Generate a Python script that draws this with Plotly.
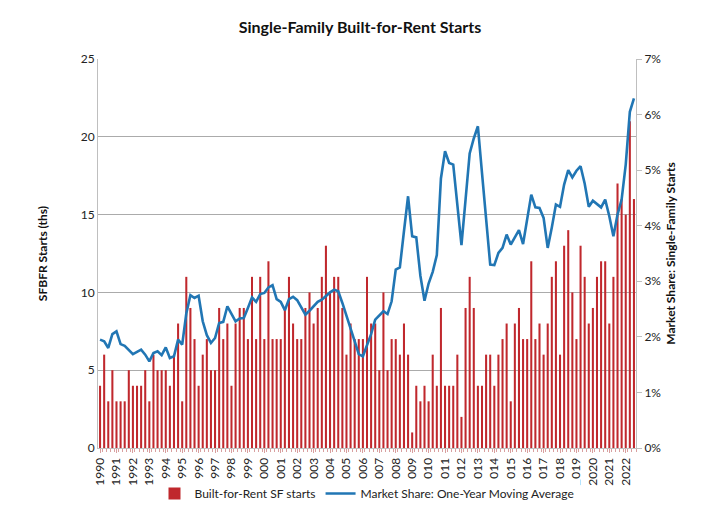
import plotly.graph_objects as go

years = list(range(1990, 2023))
quarters = [f"{y}Q{q}" for y in years for q in range(1, 5)][:131]

sfbfr_starts = [
    4, 6, 3, 5, 3, 3, 3, 5, 4, 4, 4, 5, 3, 6, 5, 5, 5, 4, 6, 8,
    3, 11, 9, 7, 4, 6, 7, 5, 5, 9, 7, 8, 4, 8, 9, 9, 7, 11, 7, 11,
    7, 12, 7, 7, 7, 9, 11, 8, 7, 7, 9, 10, 8, 9, 11, 13, 10, 11, 11, 9,
    6, 8, 7, 7, 7, 11, 8, 8, 5, 10, 5, 7, 7, 6, 8, 6, 1, 4, 3, 4,
    3, 6, 4, 9, 4, 4, 4, 6, 2, 9, 11, 9, 4, 4, 6, 6, 4, 6, 7, 8,
    3, 8, 9, 7, 7, 12, 7, 8, 6, 8, 11, 12, 6, 13, 14, 10, 7, 13, 11, 8,
    9, 11, 12, 12, 8, 11, 17, 16, 15, 21, 16,
]

market_share_pct = [
    1.95, 1.92, 1.80, 2.05, 2.10, 1.87, 1.84, 1.77, 1.69, 1.73,
    1.77, 1.68, 1.56, 1.71, 1.74, 1.67, 1.81, 1.62, 1.65, 1.95,
    1.86, 2.42, 2.75, 2.70, 2.74, 2.28, 2.03, 1.89, 1.98, 2.25,
    2.27, 2.55, 2.40, 2.28, 2.33, 2.34, 2.52, 2.71, 2.63, 2.77,
    2.79, 2.89, 2.93, 2.68, 2.63, 2.48, 2.68, 2.72, 2.66, 2.54,
    2.40, 2.47, 2.56, 2.63, 2.67, 2.74, 2.80, 2.85, 2.82, 2.61,
    2.37, 2.17, 1.92, 1.69, 1.65, 1.84, 2.05, 2.31, 2.38, 2.46,
    2.41, 2.64, 3.21, 3.25, 3.90, 4.53, 3.81, 3.79, 3.10, 2.65,
    2.96, 3.17, 3.47, 4.85, 5.34, 5.13, 5.10, 4.40, 3.65, 4.47,
    5.30, 5.57, 5.79, 4.95, 4.07, 3.30, 3.29, 3.51, 3.60, 3.84,
    3.66, 3.80, 3.92, 3.67, 4.12, 4.56, 4.33, 4.32, 4.14, 3.60,
    3.97, 4.38, 4.34, 4.74, 5.00, 4.87, 4.99, 5.07, 4.76, 4.34,
    4.45, 4.39, 4.33, 4.47, 4.17, 3.81, 4.20, 4.47, 5.10, 6.05,
    6.29,
]

year_labels = [str(y) for y in years]

x_idx = list(range(len(quarters)))
year_pos = [i for i, q in enumerate(quarters) if q.endswith("Q1")]

FONT = "Lato"
RED = "#C0282D"
BLUE = "#2176B4"

fig = go.Figure()
fig.add_trace(go.Bar(
    x=x_idx, y=sfbfr_starts, name="Built-for-Rent SF starts",
    marker=dict(color=RED, line=dict(width=0)), width=0.5,
    customdata=quarters, hovertemplate="%{customdata}: %{y}<extra></extra>",
))
fig.add_trace(go.Scatter(
    x=x_idx, y=[v / 100 for v in market_share_pct], yaxis="y2",
    name="Market Share: One-Year Moving Average", mode="lines",
    line=dict(color=BLUE, width=2.6),
))

fig.update_layout(
    width=704, height=524,
    margin=dict(l=90, r=76, t=51, b=84),
    paper_bgcolor="white", plot_bgcolor="white",
    font=dict(family=FONT, size=12, color="#222222"),
    title=dict(text="<b>Single-Family Built-for-Rent Starts</b>",
               x=0.5, xref="container", xanchor="center", y=0.963, yanchor="middle",
               font=dict(family=FONT, size=16, color="#111111")),
    showlegend=True,
    legend=dict(orientation="h", x=0.5, xanchor="center", y=-0.117, yanchor="middle",
                font=dict(family=FONT, size=12, color="#222222"),
                itemwidth=30, tracegroupgap=0),
    bargap=0.5,
    xaxis=dict(
        range=[-0.5, len(quarters) - 0.5],
        tickmode="array", tickvals=year_pos, ticktext=year_labels,
        tickangle=-90, tickfont=dict(size=12, color="#222222"),
        showgrid=False, zeroline=False,
        showline=True, linecolor="#BFBFBF", linewidth=1,
        ticks="outside", ticklen=4, tickcolor="#D9A0A0",
        minor=dict(tickvals=[i + 0.5 for i in x_idx], ticks="outside", ticklen=3,
                   tickcolor="#D9A0A0"),
    ),
    yaxis=dict(
        range=[0, 25], dtick=5, tick0=0,
        showgrid=True, gridcolor="#ABABAB", gridwidth=1,
        zeroline=False, showline=True, linecolor="#BFBFBF", linewidth=1,
        tickfont=dict(size=12, color="#222222"), ticks="",
        title=dict(text="<b>SFBFR Starts (ths)</b>", standoff=30,
                   font=dict(size=12, color="#111111")),
    ),
    yaxis2=dict(
        range=[0, 0.07], dtick=0.01, tick0=0, tickformat=".0%",
        overlaying="y", side="right", showgrid=False, zeroline=False,
        showline=True, linecolor="#BFBFBF", linewidth=1,
        ticks="outside", ticklen=5, tickcolor="#BFBFBF",
        tickfont=dict(size=12, color="#222222"),
        title=dict(text="<b>Market Share: Single-Family Starts</b>", standoff=6,
                   font=dict(size=12, color="#111111")),
    ),
)

fig.write_html("out.html")
